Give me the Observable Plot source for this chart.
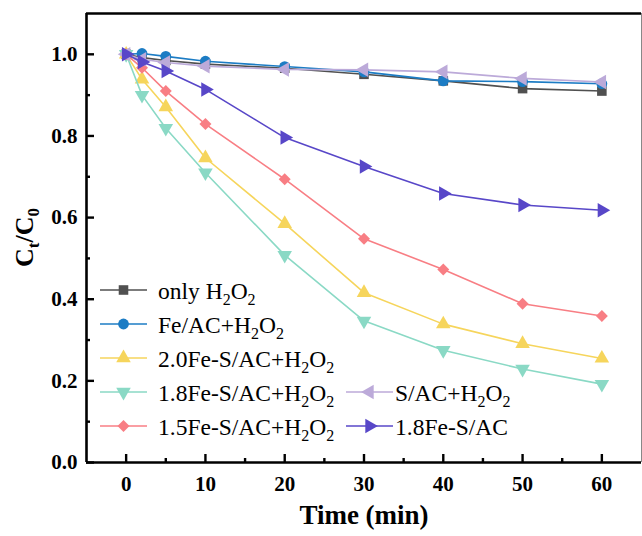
<!DOCTYPE html>
<html><head><meta charset="utf-8">
<script src="https://cdn.jsdelivr.net/npm/d3@7"></script>
<script src="https://cdn.jsdelivr.net/npm/@observablehq/plot@0.6"></script>
<style>
body{margin:0;background:#fff;}
#chart{position:relative;width:642px;height:536px;font-family:"Liberation Serif","Times New Roman",serif;overflow:hidden;}
.sw{position:absolute;overflow:visible;}
.lt{position:absolute;font-family:"Liberation Serif",serif;font-size:23.5px;line-height:24px;color:#000;white-space:nowrap;}
.lt sub{font-size:16px;vertical-align:-6px;line-height:0;}
</style></head>
<body><div id="chart"></div>
<script>
// ---- data ----
const times = [0, 2, 5, 10, 20, 30, 40, 50, 60];
const onlyH2O2   = [1.000, 0.992, 0.985, 0.976, 0.966, 0.951, 0.935, 0.916, 0.910];
const feAC       = [1.000, 1.002, 0.995, 0.983, 0.970, 0.957, 0.935, 0.933, 0.928];
const fe20SAC    = [1.000, 0.939, 0.871, 0.746, 0.585, 0.416, 0.339, 0.291, 0.255];
const fe18SAC    = [1.000, 0.900, 0.819, 0.710, 0.508, 0.347, 0.275, 0.229, 0.192];
const fe15SAC    = [1.000, 0.967, 0.910, 0.829, 0.694, 0.548, 0.473, 0.389, 0.359];
const sAC        = [1.000, 0.988, 0.980, 0.971, 0.963, 0.962, 0.957, 0.941, 0.932];
const fe18SACnoH = [1.000, 0.981, 0.959, 0.914, 0.796, 0.725, 0.659, 0.631, 0.618];

const seriesNames = ["only H2O2", "Fe/AC+H2O2", "2.0Fe-S/AC+H2O2", "1.8Fe-S/AC+H2O2", "1.5Fe-S/AC+H2O2", "S/AC+H2O2", "1.8Fe-S/AC"];
const legendLabels = ["only H<sub>2</sub>O<sub>2</sub>", "Fe/AC+H<sub>2</sub>O<sub>2</sub>", "2.0Fe-S/AC+H<sub>2</sub>O<sub>2</sub>",
  "1.8Fe-S/AC+H<sub>2</sub>O<sub>2</sub>", "1.5Fe-S/AC+H<sub>2</sub>O<sub>2</sub>", "S/AC+H<sub>2</sub>O<sub>2</sub>", "1.8Fe-S/AC"];
const seriesValues = [onlyH2O2, feAC, fe20SAC, fe18SAC, fe15SAC, sAC, fe18SACnoH];
const colors = ["#505050", "#1c7cc4", "#f6d55c", "#8ad9c5", "#f87e84", "#bcaad9", "#5847c8"];
const symbols = ["square", "circle", "triangle", "triangle", "diamond2", "triangle", "triangle"];
const rotations = [0, 0, 0, 180, 0, -90, 90];

const xDomain = [-5, 65];
const yDomain = [0, 1.1];
const xTicks = [0, 10, 20, 30, 40, 50, 60];
const xMinor = [5, 15, 25, 35, 45, 55];
const yTicks = [0, 0.2, 0.4, 0.6, 0.8, 1.0];
const yMinor = [0.1, 0.3, 0.5, 0.7, 0.9];

// ---- layout ----
const W = 642, H = 536, mL = 86, mR = 1, mT = 13, mB = 74;
const plotW = W - mL - mR, plotH = H - mT - mB;
const font = "Liberation Serif";
const mr = 5.4;

const rows = seriesNames.flatMap((s, i) => times.map((t, j) => ({series: s, t, v: seriesValues[i][j]})));

const marks = [];
// frame
marks.push(Plot.ruleX([xDomain[1]], {stroke: "#888", strokeWidth: 1}));
marks.push(Plot.ruleY([yDomain[1]], {stroke: "#000", strokeWidth: 2.6}));
// inward ticks
marks.push(Plot.ruleX(xTicks, {x: d => d, insetTop: plotH - 8, stroke: "#000", strokeWidth: 2.4}));
marks.push(Plot.ruleX(xMinor, {x: d => d, insetTop: plotH - 4, stroke: "#000", strokeWidth: 2.4}));
marks.push(Plot.ruleY(yTicks, {y: d => d, insetRight: plotW - 8, stroke: "#000", strokeWidth: 2.4}));
marks.push(Plot.ruleY(yMinor, {y: d => d, insetRight: plotW - 4, stroke: "#000", strokeWidth: 2.4}));
// series
seriesNames.forEach((s, i) => {
  const d = rows.filter(r => r.series === s);
  marks.push(Plot.line(d, {x: "t", y: "v", stroke: colors[i], strokeWidth: 1.6}));
  marks.push(Plot.dot(d, {x: "t", y: "v", symbol: symbols[i], rotate: rotations[i], fill: colors[i], stroke: "none", r: mr}));
});
marks.push(Plot.ruleX([xDomain[0]], {stroke: "#000", strokeWidth: 2.6}));
marks.push(Plot.ruleY([yDomain[0]], {stroke: "#000", strokeWidth: 2.6}));
// axes
marks.push(Plot.axisX({ticks: xTicks, tickSize: 0, tickPadding: 14, fontFamily: font, fontSize: 21, fontWeight: "bold", label: null, fill: "#000"}));
marks.push(Plot.axisY({ticks: yTicks, tickSize: 0, tickPadding: 9, tickFormat: d3.format(".1f"), fontFamily: font, fontSize: 21, fontWeight: "bold", label: null, fill: "#000"}));
marks.push(Plot.text(["Time (min)"], {frameAnchor: "bottom", dy: 61, fontFamily: font, fontSize: 27, fontWeight: "bold", fill: "#000"}));

const plot = Plot.plot({
  width: W, height: H,
  marginLeft: mL, marginRight: mR, marginTop: mT, marginBottom: mB,
  x: {domain: xDomain, label: null},
  y: {domain: yDomain, label: null},
  style: {fontFamily: "'Liberation Serif', serif", background: "#fff", color: "#000", overflow: "visible"},
  marks
});

// y axis title with subscripts
const svg = d3.select(plot);
const yl = svg.append("text")
  .attr("transform", `translate(33,${mT + plotH / 2}) rotate(-90)`)
  .attr("text-anchor", "middle")
  .attr("font-family", font).attr("font-weight", "bold").attr("font-size", 26).attr("fill", "#000");
yl.append("tspan").text("C");
yl.append("tspan").attr("dy", 6).attr("font-size", 17).text("t");
yl.append("tspan").attr("dy", -6).text("/C");
yl.append("tspan").attr("dy", 6).attr("font-size", 17).text("0");

const chart = document.getElementById("chart");
chart.appendChild(plot);
plot.style.position = "absolute"; plot.style.left = "0"; plot.style.top = "0";

// ---- legend (inside plot, Origin style) ----
const legendPos = [
  {sx: 100, tx: 158, y: 290}, {sx: 100, tx: 158, y: 324}, {sx: 100, tx: 158, y: 358},
  {sx: 100, tx: 158, y: 392}, {sx: 100, tx: 158, y: 426},
  {sx: 346, tx: 395, y: 392}, {sx: 346, tx: 395, y: 426}
];
const swLen = 47;
const symMap = {square: d3.symbolSquare, circle: d3.symbolCircle, triangle: d3.symbolTriangle, diamond2: d3.symbolDiamond2};
seriesNames.forEach((s, i) => {
  const p = legendPos[i];
  const sw = d3.create("svg").attr("class", "sw").attr("width", swLen).attr("height", 20)
    .style("left", p.sx + "px").style("top", (p.y - 10) + "px");
  sw.append("line").attr("x1", 0).attr("x2", swLen).attr("y1", 10).attr("y2", 10)
    .attr("stroke", colors[i]).attr("stroke-width", 1.6);
  sw.append("path").attr("d", d3.symbol(symMap[symbols[i]], mr * mr * Math.PI)())
    .attr("transform", `translate(${swLen / 2},10) rotate(${rotations[i]})`)
    .attr("fill", colors[i]);
  chart.appendChild(sw.node());
  const t = document.createElement("div");
  t.className = "lt";
  t.style.left = p.tx + "px";
  t.style.top = (p.y - 11) + "px";
  t.innerHTML = legendLabels[i];
  chart.appendChild(t);
});
</script>
</body></html>
